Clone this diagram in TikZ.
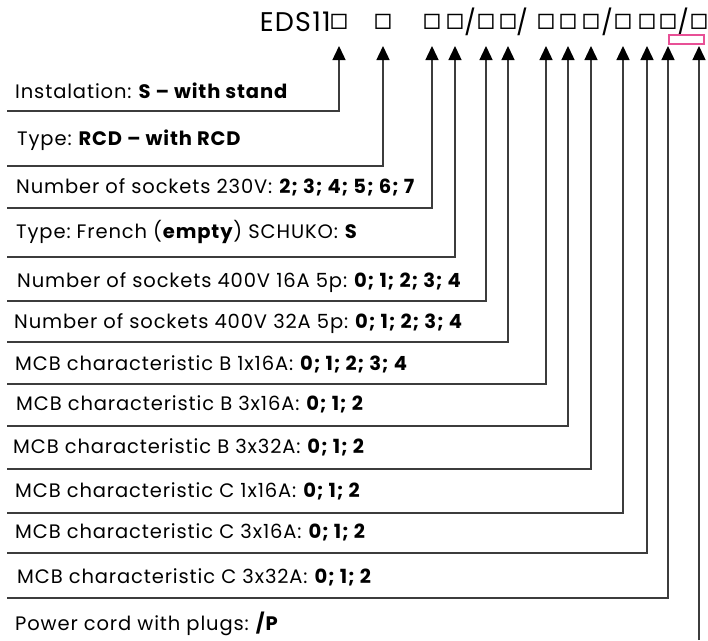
\documentclass[tikz,border=0pt]{standalone}
\usepackage{fontspec}
\setmainfont{Poppins}
\newfontfamily\lblfont{Poppins}[LetterSpace=4.5]
\newfontfamily\symfont{DejaVu Sans Mono}
\usetikzlibrary{arrows.meta}

\definecolor{wire}{RGB}{60,60,60}
\definecolor{hilite}{RGB}{232,80,150}

\begin{document}
\begin{tikzpicture}[x=1pt,y=-1pt,
  every node/.style={inner sep=0pt},
  lbl/.style={anchor=base west,font=\lblfont\fontsize{19.5}{22}\selectfont\frenchspacing},
  head/.style={anchor=base,font=\lblfont\fontsize{27}{32}\selectfont},
  slash/.style={anchor=center,font=\fontsize{25}{30}\selectfont},
  sq/.style={anchor=center,font=\symfont\fontsize{25.5}{30}\selectfont},
  conn/.style={draw=wire,line width=1.4pt,-{Triangle[width=13pt,length=14pt,color=black]}}]
  \useasboundingbox (0,0) rectangle (708,640);

  \node[head,anchor=base east] (eds) at (331,31) {EDS11};
  \foreach \i/\x in {1/339,2/383,3/432,4/455,5/486,6/508,7/546,8/568,9/591,10/623,11/647,12/668,13/699}
    \node[sq] (b\i) at (\x,22) {□};
  \foreach \i/\x in {1/470,2/522,3/607,4/683}
    \node[slash] (sl\i) at (\x,21.5) {/};
  \draw[draw=hilite,line width=1.4pt] (669,35) rectangle (704,44);

  \foreach \i/\tx/\ty/\ly/\t in {
    1/15/98/111/{Instalation: \textbf{S – with stand}},
    2/17/145/166/{Type: \textbf{RCD – with RCD}},
    3/16/193/208/{Number of sockets 230V: \textbf{2; 3; 4; 5; 6; 7}},
    4/16/238/257/{Type: French (\textbf{empty}) SCHUKO: \textbf{S}},
    5/17/287/301/{Number of sockets 400V 16A 5p: \textbf{0; 1; 2; 3; 4}},
    6/14/328/342/{Number of sockets 400V 32A 5p: \textbf{0; 1; 2; 3; 4}},
    7/15/370/384/{MCB characteristic B 1x16A: \textbf{0; 1; 2; 3; 4}},
    8/16/410/426/{MCB characteristic B 3x16A: \textbf{0; 1; 2}},
    9/13/453/469/{MCB characteristic B 3x32A: \textbf{0; 1; 2}},
    10/15/497/513/{MCB characteristic C 1x16A: \textbf{0; 1; 2}},
    11/15/538/553/{MCB characteristic C 3x16A: \textbf{0; 1; 2}},
    12/17/583/598/{MCB characteristic C 3x32A: \textbf{0; 1; 2}}}{
    \node[lbl] (l\i) at (\tx,\ty) {\t};
    \coordinate (s\i) at (7,\ly);
    \draw[conn] (s\i) -| ([yshift=-24pt]b\i.center);
  }
  \node[lbl] (l13) at (15,630) {Power cord with plugs: \textbf{/P}};
  \coordinate (s13) at (699,640);
  \draw[conn] (s13) -- ([yshift=-24pt]b13.center);
\end{tikzpicture}
\end{document}
